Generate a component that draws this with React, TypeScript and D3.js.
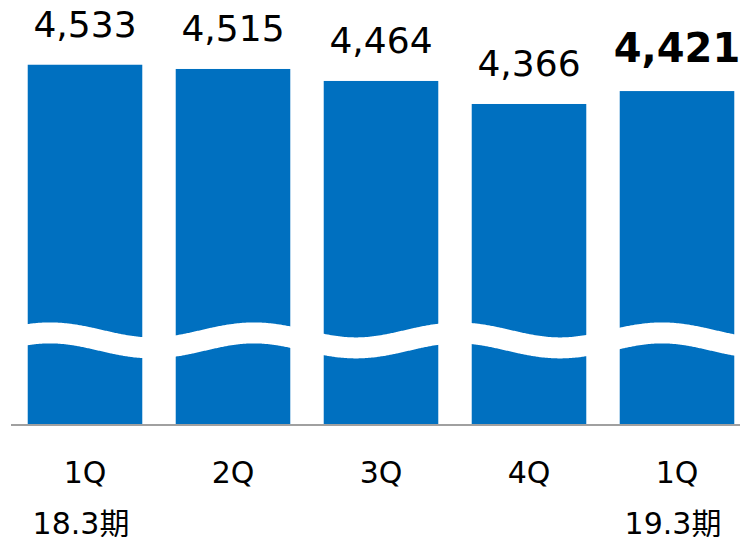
import React from "react";
import * as d3 from "d3";

const categories = ["1Q", "2Q", "3Q", "4Q", "1Q"];
const periodLabels = ["18.3期", "", "", "", "19.3期"];
const values = [4533, 4515, 4464, 4366, 4421];
const emphasized = [false, false, false, false, true];
const breakValue = 3360;

const W = 740;
const H = 537;
const FONT = "'DejaVu Sans', Verdana, 'Noto Sans CJK JP', sans-serif";

export default function App() {
  const x = d3
    .scaleBand<number>()
    .domain(values.map((_, i) => i))
    .range([11, 751])
    .paddingInner(0.226)
    .paddingOuter(0.113);
  const y = d3.scaleLinear().domain([3000, 4600]).range([425, 49]);

  const baseY = y(3000);
  const waveC = y(breakValue);
  const amp = 7.5;
  const period = 204;
  const phase = 50;
  const pts: [number, number][] = d3
    .range(0, W + 1, 2)
    .map((px) => [px, waveC - amp * Math.cos((2 * Math.PI * (px - phase)) / period)]);
  const wave = d3.line().curve(d3.curveBasis)(pts) || "";

  return (
    <svg
      width={W}
      height={H}
      style={{ position: "absolute", left: 0, top: 0, background: "#fff" }}
      fontFamily={FONT}
    >
      {values.map((v, i) => (
        <rect
          key={"b" + i}
          x={x(i)}
          y={y(v)}
          width={x.bandwidth()}
          height={baseY - y(v)}
          fill="#0070C0"
        />
      ))}
      <path d={wave} fill="none" stroke="#fff" strokeWidth={21} />
      <line x1={11} x2={W} y1={baseY} y2={baseY} stroke="#A0A0A0" strokeWidth={2} />
      {values.map((v, i) => (
        <text
          key={"v" + i}
          x={(x(i) as number) + x.bandwidth() / 2}
          y={y(v) - (emphasized[i] ? 29 : 27.5)}
          textAnchor="middle"
          fontSize={emphasized[i] ? 40 : 36}
          fontWeight={emphasized[i] ? "bold" : "normal"}
          fill="#000"
        >
          {d3.format(",")(v)}
        </text>
      ))}
      {categories.map((c, i) => (
        <text
          key={"c" + i}
          x={(x(i) as number) + x.bandwidth() / 2}
          y={483}
          textAnchor="middle"
          fontSize={30}
          fill="#000"
        >
          {c}
        </text>
      ))}
      {periodLabels.map((p, i) =>
        p ? (
          <text
            key={"p" + i}
            x={(x(i) as number) + x.bandwidth() / 2 - 4}
            y={534}
            textAnchor="middle"
            fontSize={30}
            fill="#000"
          >
            {p}
          </text>
        ) : null
      )}
    </svg>
  );
}
